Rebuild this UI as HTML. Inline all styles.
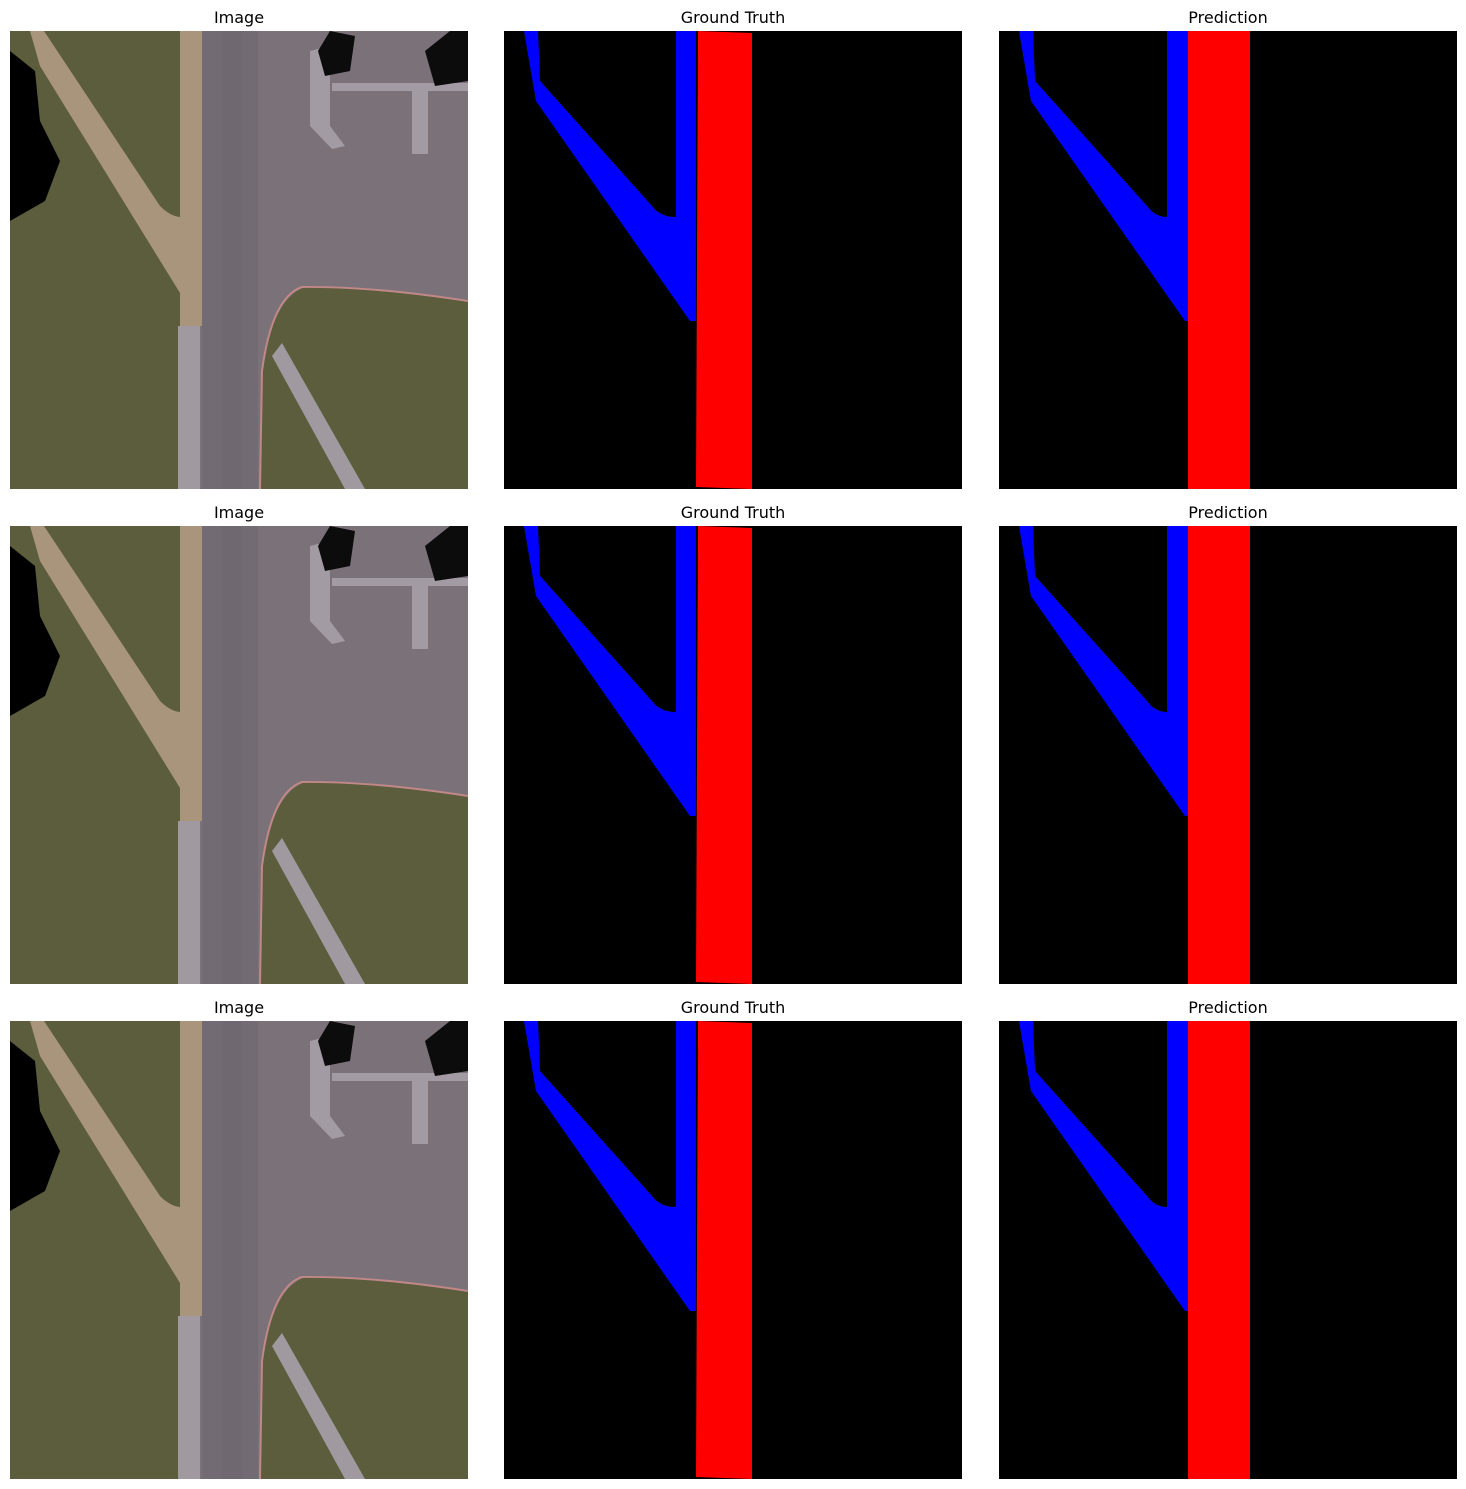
<!DOCTYPE html>
<html><head><meta charset="utf-8">
<style>
html,body{margin:0;padding:0;background:#fff;}
body{width:1466px;height:1489px;overflow:hidden;}
svg{display:block;}
text{font-family:"DejaVu Sans","Liberation Sans",sans-serif;font-size:16px;fill:#000;}
</style></head>
<body>
<svg id="fig" width="1466" height="1489" viewBox="0 0 1466 1489" xmlns="http://www.w3.org/2000/svg"></svg>
<script>
const colX = [10, 504, 999];
const rowY = [31, 526, 1021];
const titles = ["Image", "Ground Truth", "Prediction"];
const NS = "http://www.w3.org/2000/svg";
const fig = document.getElementById('fig');
function mk(tag, attrs, parent){
  const e = document.createElementNS(NS, tag);
  for (const k in attrs) e.setAttribute(k, attrs[k]);
  parent.appendChild(e);
  return e;
}
function imagePanel(g){
  mk('rect',{x:0,y:0,width:458,height:458,fill:'#5c5d3d'},g);
  mk('path',{d:'M190 0 L458 0 L458 270 Q360 255 295 256 Q262 268 252 340 L250 458 L190 458 Z',fill:'#7b7179'},g);
  mk('rect',{x:192,y:0,width:56,height:458,fill:'#736b73'},g);
  mk('rect',{x:212,y:0,width:20,height:458,fill:'#6f6870'},g);
  mk('path',{d:'M458 270 Q360 255 292 256 Q262 266 252 340 L250 458',fill:'none',stroke:'#c08888','stroke-width':2},g);
  mk('path',{d:'M170 0 L192 0 L192 295 L170 295 Z',fill:'#a8957c'},g);
  mk('rect',{x:168,y:295,width:22,height:163,fill:'#a09aa0'},g);
  mk('path',{d:'M20 0 L34 0 L150 175 Q160 185 170 186 L170 262 L30 35 Z',fill:'#a8957c'},g);
  mk('path',{d:'M262 325 L272 312 L355 458 L335 458 Z',fill:'#a09aa0'},g);
  mk('path',{d:'M300 20 L320 15 L320 95 L335 115 L322 118 L300 95 Z',fill:'#a39ba3'},g);
  mk('rect',{x:322,y:52,width:136,height:8,fill:'#a39ba3'},g);
  mk('rect',{x:402,y:55,width:16,height:68,fill:'#a39ba3'},g);
  mk('path',{d:'M308 20 L320 0 L345 5 L340 40 L315 45 Z',fill:'#0c0c0c'},g);
  mk('path',{d:'M415 20 L440 0 L458 0 L458 50 L425 55 Z',fill:'#0c0c0c'},g);
  mk('path',{d:'M0 20 L25 40 L30 90 L50 130 L35 170 L0 190 Z',fill:'#000'},g);
}
function maskPanel(g, pred){
  mk('rect',{x:0,y:0,width:458,height:458,fill:'#000'},g);
  const vx = pred ? 168 : 172;
  mk('path',{d:`M20 0 L34 0 L36 50 L148 175 Q156 186 ${vx} 186 L${vx} 0 L192 0 L192 290 L186 290 L32 70 Z`,fill:'#0000ff'},g);
  if (pred) mk('rect',{x:189,y:0,width:62,height:458,fill:'#ff0000'},g);
  else mk('path',{d:'M194 0 L248 2 L248 458 L192 456 Z',fill:'#ff0000'},g);
}
for (let r=0;r<3;r++){
  for (let c=0;c<3;c++){
    const g = mk('g',{transform:`translate(${colX[c]},${rowY[r]})`},fig);
    
    
    if (c===0) imagePanel(g); else maskPanel(g, c===2);
    const t = mk('text',{x:colX[c]+229,y:rowY[r]-8,'text-anchor':'middle'},fig);
    t.textContent = titles[c];
    
    
  }
}
</script>
</body></html>
